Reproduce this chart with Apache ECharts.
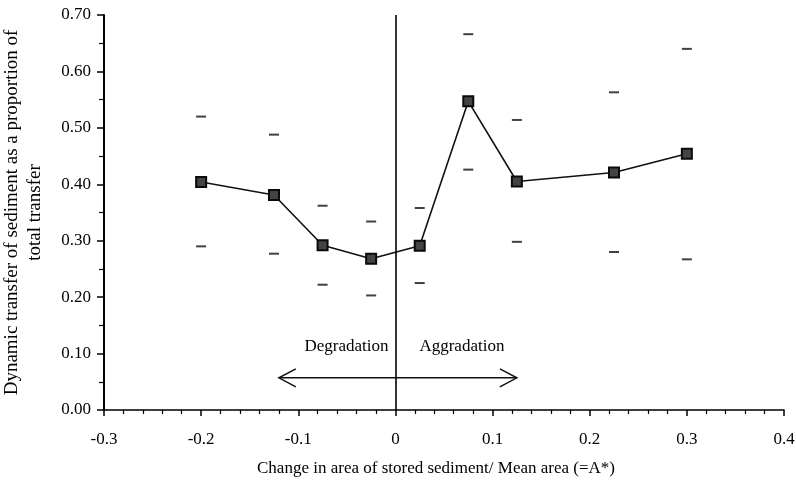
<!DOCTYPE html>
<html>
<head>
<meta charset="utf-8">
<script src="https://cdn.jsdelivr.net/npm/echarts@6/dist/echarts.min.js"></script>
<style>
  html, body { margin: 0; padding: 0; background: #fff; }
  #chart { width: 796px; height: 485px; }
</style>
</head>
<body>
<div id="chart"></div>
<script>
// Change in stored sediment area (A*) for each class
const xValues = [-0.2, -0.125, -0.075, -0.025, 0.025, 0.075, 0.125, 0.225, 0.3];
// Mean proportion of dynamic transfer
const meanValues = [0.404, 0.381, 0.292, 0.268, 0.291, 0.547, 0.405, 0.421, 0.454];
// Upper and lower bounds drawn as short dashes
const upperValues = [0.520, 0.488, 0.362, 0.334, 0.358, 0.666, 0.514, 0.563, 0.640];
const lowerValues = [0.290, 0.277, 0.222, 0.203, 0.225, 0.426, 0.298, 0.280, 0.267];

// Double-headed arrow spanning degradation / aggradation
const arrowEnds = [-0.12, 0.125];
const arrowLevel = 0.057;
const zoneLabels = ['Degradation', 'Aggradation'];

const FONT = '"Liberation Serif", "DejaVu Serif", serif';
const FS = 17;

const chart = echarts.init(document.getElementById('chart'), null, { renderer: 'canvas' });

const meanData = xValues.map((x, i) => [x, meanValues[i]]);
const capData = xValues.map((x, i) => [x, upperValues[i]])
  .concat(xValues.map((x, i) => [x, lowerValues[i]]));

chart.setOption({
  animation: false,
  backgroundColor: '#ffffff',
  grid: { left: 104, right: 12, top: 15, bottom: 75, containLabel: false, outerBoundsMode: 'none' },
  xAxis: {
    type: 'value',
    min: -0.3,
    max: 0.4,
    interval: 0.1,
    name: 'Change in area of stored sediment/ Mean area (=A*)',
    nameLocation: 'middle',
    nameGap: 50,
    nameTextStyle: { fontFamily: FONT, fontSize: FS, color: '#000', padding: [0, 16, 0, 0] },
    axisLine: { onZero: false, lineStyle: { color: '#000', width: 1.5 } },
    axisTick: { inside: false, length: 6, lineStyle: { color: '#000', width: 1.5 } },
    minorTick: { show: true, splitNumber: 5, length: 4, lineStyle: { color: '#000', width: 1.2 } },
    axisLabel: {
      margin: 21,
      fontFamily: FONT, fontSize: FS, color: '#000',
      formatter: v => (Math.abs(v) < 1e-9 ? '0' : String(+v.toFixed(1)))
    },
    splitLine: { show: false }
  },
  yAxis: {
    type: 'value',
    min: 0,
    max: 0.7,
    interval: 0.1,
    name: 'Dynamic transfer of sediment as a proportion of\ntotal transfer',
    nameLocation: 'middle',
    nameGap: 57,
    nameRotate: 90,
    nameTextStyle: { fontFamily: FONT, fontSize: 19, color: '#000', lineHeight: 23, align: 'center' },
    axisLine: { onZero: false, lineStyle: { color: '#000', width: 2 } },
    axisTick: { inside: false, length: 7, lineStyle: { color: '#000', width: 1.5 } },
    minorTick: { show: true, splitNumber: 2, length: 5, lineStyle: { color: '#000', width: 1.2 } },
    axisLabel: {
      margin: 13,
      fontFamily: FONT, fontSize: FS, color: '#000',
      formatter: v => v.toFixed(2)
    },
    splitLine: { show: false }
  },
  series: [
    {
      // zero line separating the two regimes
      type: 'line',
      data: [],
      silent: true,
      markLine: {
        silent: true,
        symbol: ['none', 'none'],
        label: { show: false },
        lineStyle: { color: '#000', width: 1.6, type: 'solid' },
        data: [{ xAxis: 0 }]
      }
    },
    {
      type: 'scatter',
      data: capData,
      symbol: 'rect',
      symbolSize: [10, 2],
      itemStyle: { color: '#111' },
      silent: true,
      z: 3
    },
    {
      type: 'line',
      data: meanData,
      symbol: 'rect',
      symbolSize: 10,
      showSymbol: true,
      lineStyle: { color: '#111', width: 1.6 },
      itemStyle: { color: '#444', borderColor: '#0a0a0a', borderWidth: 2 },
      z: 4
    },
    {
      type: 'custom',
      silent: true,
      data: [0],
      z: 5,
      renderItem: function (params, api) {
        const a = api.coord([arrowEnds[0], arrowLevel]);
        const b = api.coord([arrowEnds[1], arrowLevel]);
        const o = api.coord([0, arrowLevel]);
        const hl = 17, hw = 9;
        const stroke = { stroke: '#111', lineWidth: 1.5, fill: null };
        return {
          type: 'group',
          children: [
            { type: 'line', shape: { x1: a[0], y1: a[1], x2: b[0], y2: b[1] }, style: stroke },
            { type: 'polyline', shape: { points: [[a[0] + hl, a[1] - hw], [a[0], a[1]], [a[0] + hl, a[1] + hw]] }, style: stroke },
            { type: 'polyline', shape: { points: [[b[0] - hl, b[1] - hw], [b[0], b[1]], [b[0] - hl, b[1] + hw]] }, style: stroke },
            {
              type: 'text',
              style: {
                text: zoneLabels[0], x: o[0] - 7, y: o[1] - 31,
                align: 'right', verticalAlign: 'middle',
                font: FS + 'px ' + FONT, fill: '#000'
              }
            },
            {
              type: 'text',
              style: {
                text: zoneLabels[1], x: o[0] + 24, y: o[1] - 31,
                align: 'left', verticalAlign: 'middle',
                font: FS + 'px ' + FONT, fill: '#000'
              }
            }
          ]
        };
      }
    }
  ]
});
</script>
</body>
</html>
